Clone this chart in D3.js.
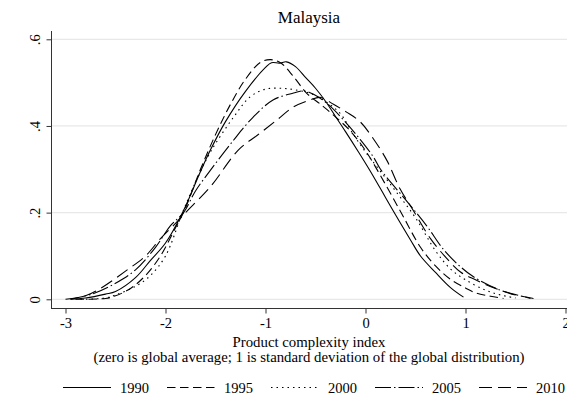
<!DOCTYPE html>
<html>
<head>
<meta charset="utf-8">
<script src="https://cdn.jsdelivr.net/npm/d3@7"></script>
<style>
  body { margin: 0; background: #fff; }
  text { font-family: "Liberation Serif", "DejaVu Serif", serif; fill: #000; }
</style>
</head>
<body>
<script>
(function () {
  "use strict";
  var w = 567,
      h = 399;

  var years = ["1990", "1995", "2000", "2005", "2010"];
  var dashes = ["", "8.5,4.5", "1.5,4", "16,3,1.5,3", "13,6"];

  var xTicks = [-3, -2, -1, 0, 1, 2];
  var yTicks = [0, 0.2, 0.4, 0.6];
  var yTickLabels = ["0", ".2", ".4", ".6"];

  // kernel density estimates: [pci, density]
  var d1990 = [[-2.95,0],[-2.8,0.003],[-2.6,0.012],[-2.5,0.018],[-2.3,0.05],[-2.15,0.09],[-2,0.13],
    [-1.83,0.2],[-1.65,0.295],[-1.55,0.345],[-1.4,0.41],[-1.2,0.48],[-1.0,0.535],[-0.94,0.546],
    [-0.86,0.545],[-0.79,0.548],[-0.7,0.537],[-0.6,0.512],[-0.5,0.487],[-0.4,0.457],[-0.3,0.422],
    [-0.2,0.387],[-0.07,0.34],[0.05,0.295],[0.2,0.235],[0.3,0.195],[0.45,0.137],[0.55,0.1],
    [0.7,0.062],[0.85,0.027],[0.98,0.005]];
  var d1995 = [[-2.9,0],[-2.6,0.002],[-2.5,0.008],[-2.35,0.025],[-2.2,0.055],[-2.05,0.1],[-1.9,0.165],
    [-1.82,0.2],[-1.65,0.3],[-1.5,0.38],[-1.35,0.45],[-1.2,0.508],[-1.05,0.547],[-0.95,0.553],
    [-0.85,0.546],[-0.72,0.514],[-0.59,0.476],[-0.45,0.45],[-0.32,0.425],[-0.15,0.388],[0,0.343],
    [0.2,0.265],[0.38,0.19],[0.55,0.12],[0.7,0.077],[0.85,0.046],[1.0,0.026],[1.1,0.015],
    [1.25,0.007],[1.38,0.002]];
  var d2000 = [[-2.85,0],[-2.6,0.003],[-2.5,0.01],[-2.3,0.03],[-2.15,0.055],[-2,0.1],[-1.83,0.2],
    [-1.7,0.27],[-1.55,0.34],[-1.32,0.42],[-1.15,0.468],[-1.0,0.485],[-0.85,0.487],[-0.72,0.484],
    [-0.55,0.475],[-0.39,0.455],[-0.25,0.428],[-0.12,0.38],[0,0.34],[0.1,0.31],[0.3,0.25],
    [0.5,0.188],[0.7,0.112],[0.85,0.07],[1.0,0.045],[1.2,0.021],[1.35,0.01],[1.5,0.003]];
  var d2005 = [[-2.95,0],[-2.8,0.008],[-2.7,0.015],[-2.5,0.037],[-2.3,0.068],[-2.1,0.12],[-1.95,0.17],
    [-1.82,0.2],[-1.7,0.25],[-1.55,0.298],[-1.32,0.367],[-1.125,0.42],[-0.925,0.46],[-0.72,0.476],
    [-0.62,0.481],[-0.52,0.473],[-0.39,0.453],[-0.22,0.414],[-0.05,0.368],[0.08,0.328],[0.15,0.3],
    [0.4,0.23],[0.61,0.17],[0.78,0.115],[0.95,0.075],[1.08,0.052],[1.35,0.021],[1.55,0.008],[1.65,0.002]];
  var d2010 = [[-3.0,0],[-2.8,0.008],[-2.65,0.025],[-2.4,0.065],[-2.2,0.1],[-2.05,0.14],[-1.9,0.175],
    [-1.8,0.2],[-1.55,0.26],[-1.27,0.345],[-1.085,0.378],[-0.885,0.414],[-0.72,0.444],[-0.555,0.46],
    [-0.455,0.466],[-0.32,0.45],[-0.19,0.432],[-0.055,0.41],[0.08,0.37],[0.215,0.32],[0.345,0.255],
    [0.475,0.206],[0.65,0.14],[0.81,0.095],[0.95,0.063],[1.1,0.045],[1.3,0.025],[1.5,0.01],[1.68,0.002]];
  var series = [d1990, d1995, d2000, d2005, d2010];

  var x = d3.scaleLinear().domain([-3, 2]).range([65.5, 565.5]);
  var y = d3.scaleLinear().domain([0, 0.6]).range([299.3, 39.3]);

  var svg = d3.select("body")
              .append("svg")
              .attr("width", w)
              .attr("height", h);

  // gridlines
  svg.selectAll("line.grid")
     .data(yTicks)
     .enter()
     .append("line")
     .attr("class", "grid")
     .attr("x1", 51).attr("x2", 567)
     .attr("y1", d => y(d)).attr("y2", d => y(d))
     .attr("stroke", "#e8e8e8")
     .attr("stroke-width", 1.2);

  var line = d3.line()
               .x(d => x(d[0]))
               .y(d => y(d[1]))
               .curve(d3.curveCatmullRom.alpha(0.5));

  svg.selectAll("path.kd")
     .data(series)
     .enter()
     .append("path")
     .attr("class", "kd")
     .attr("d", line)
     .attr("fill", "none")
     .attr("stroke", "#000")
     .attr("stroke-width", 1.1)
     .attr("stroke-dasharray", (d, i) => dashes[i] || null);

  // axes
  var xAxis = svg.append("g")
                 .attr("transform", "translate(0,308.5)")
                 .call(d3.axisBottom(x).tickValues(xTicks).tickSize(5).tickPadding(4)
                         .tickFormat(d3.format("d")));
  xAxis.select(".domain").attr("d", "M51,0H567").attr("stroke", "#333");
  xAxis.selectAll(".tick line").attr("stroke", "#333");
  xAxis.selectAll("text").style("font-size", "14.5px").attr("fill", "#000")
       .text(d => d < 0 ? "-" + Math.abs(d) : d);

  var yAxis = svg.append("g")
                 .attr("transform", "translate(51.5,0)")
                 .call(d3.axisLeft(y).tickValues(yTicks).tickSize(5)
                         .tickFormat((d, i) => yTickLabels[i]));
  yAxis.select(".domain").attr("d", "M0,31V308.5").attr("stroke", "#333");
  yAxis.selectAll(".tick line").attr("stroke", "#333");
  yAxis.selectAll("text")
       .style("font-size", "14.5px")
       .attr("fill", "#000")
       .attr("x", 0).attr("dy", null)
       .attr("text-anchor", "middle")
       .attr("transform", "translate(-12,0) rotate(-90)");

  svg.append("text")
     .attr("x", 309).attr("y", 23)
     .attr("text-anchor", "middle")
     .style("font-size", "17px")
     .text("Malaysia");

  svg.append("text")
     .attr("x", 309).attr("y", 346.5)
     .attr("text-anchor", "middle")
     .style("font-size", "14.8px")
     .text("Product complexity index");
  svg.append("text")
     .attr("x", 309).attr("y", 361.5)
     .attr("text-anchor", "middle")
     .style("font-size", "14.8px")
     .text("(zero is global average; 1 is standard deviation of the global distribution)");

  // legend
  var legX = [63, 167, 271, 375, 479];
  var leg = svg.selectAll("g.leg")
               .data(years)
               .enter()
               .append("g")
               .attr("class", "leg")
               .attr("transform", (d, i) => "translate(" + legX[i] + ",387.5)");
  leg.append("line")
     .attr("x1", 0).attr("x2", 48)
     .attr("stroke", "#000")
     .attr("stroke-width", 1.1)
     .attr("stroke-dasharray", (d, i) => dashes[i] || null);
  leg.append("text")
     .attr("x", 57).attr("y", 5)
     .style("font-size", "14.5px")
     .text(d => d);
})();
</script>
</body>
</html>
